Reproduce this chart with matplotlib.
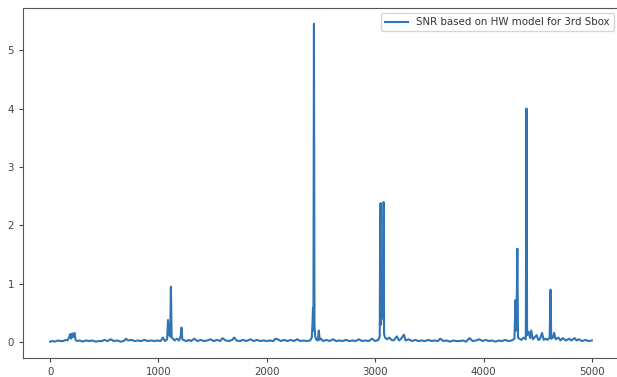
import matplotlib
matplotlib.use("Agg")
import matplotlib.pyplot as plt

# SNR trace (sample index, SNR value)
trace_x = [0, 20, 45, 70, 95, 120, 145, 160, 175, 185, 195, 205, 215, 225, 235, 250,
           275, 300, 330, 360, 390, 420, 450, 480, 500,
           530, 560, 590, 620, 650, 680, 700, 720, 750, 780, 810, 840, 870, 900, 930,
           960, 990,
           1020, 1040, 1060, 1080, 1088, 1094, 1100, 1108, 1115, 1122, 1135, 1150,
           1170, 1190, 1205, 1212, 1220, 1240, 1260, 1280, 1300,
           1330, 1360, 1390, 1420, 1450, 1480, 1510, 1540, 1570, 1590, 1620, 1650,
           1680, 1700, 1720, 1750, 1780, 1810, 1850, 1880, 1910, 1940, 1970, 2000,
           2030, 2060, 2080, 2100, 2130, 2160, 2190, 2220, 2250, 2280, 2310, 2340,
           2370, 2400, 2415,
           2422, 2426, 2430, 2435, 2440, 2446, 2455, 2470, 2480, 2488, 2500, 2520,
           2550, 2580, 2610, 2640, 2670, 2700, 2730, 2760, 2790, 2820, 2850, 2880,
           2910, 2940, 2970, 3000, 3030,
           3042, 3046, 3050, 3054, 3058, 3062, 3066, 3070, 3074, 3078, 3082, 3090,
           3110, 3130, 3150, 3170, 3200, 3220, 3240, 3265, 3280, 3310, 3340, 3370,
           3400, 3430, 3460, 3490, 3520, 3550, 3580, 3600, 3630, 3660, 3690, 3720,
           3750, 3780, 3810, 3840, 3870, 3900, 3930, 3960, 3990, 4020, 4050, 4080,
           4110, 4140, 4170, 4200, 4230, 4260, 4285,
           4295, 4300, 4305, 4312, 4318, 4330, 4350, 4370, 4390, 4396, 4402, 4415,
           4430, 4440, 4455, 4470, 4490, 4505, 4520, 4540, 4555, 4575, 4590, 4610,
           4618, 4625, 4640, 4652, 4665, 4690, 4710, 4730, 4760, 4790, 4810, 4840,
           4860, 4880, 4910, 4940, 4970, 4999]
trace_y = [.01, .02, .01, .03, .02, .02, .04, .03, .08, .14, .06, .15, .09, .16, .04, .02,
           .03, .01, .03, .02, .03, .01, .02, .02, .04,
           .02, .05, .02, .03, .01, .02, .06, .03, .04, .02, .03, .02, .04, .02, .03,
           .02, .03,
           .02, .08, .02, .05, .38, .12, .30, .10, .95, .08, .06, .03,
           .06, .03, .10, .25, .05, .03, .02, .04, .02,
           .06, .02, .04, .02, .03, .05, .02, .04, .02, .07, .03, .02,
           .04, .08, .03, .02, .04, .02, .05, .02, .04, .02, .03, .02,
           .03, .02, .06, .05, .02, .04, .02, .04, .02, .05, .02, .03,
           .02, .03, .08,
           .35, .58, .20, 5.45, .30, .10, .05, .03, .20, .04, .06, .02,
           .04, .02, .05, .02, .03, .02, .04, .02, .03, .02, .05, .02,
           .03, .02, .06, .02, .04,
           .10, 2.0, 2.38, .30, 1.40, .40, 1.38, .50, 1.30, 2.40, .15, .08,
           .05, .08, .04, .03, .10, .03, .06, .13, .03, .05, .02, .04,
           .02, .03, .02, .04, .02, .03, .02, .06, .02, .03, .01, .03,
           .02, .02, .03, .01, .07, .02, .03, .05, .02, .04, .02, .03,
           .01, .03, .02, .04, .02, .03, .06,
           .72, .20, .50, 1.60, .08, .06, .04, .08, .05, 4.0, .12, .18,
           .07, .20, .05, .08, .12, .04, .05, .16, .04, .06, .04, .08,
           .90, .06, .08, .16, .05, .08, .03, .07, .03, .06, .03, .07,
           .03, .05, .02, .04, .02, .03]

series_label = "SNR based on HW model for 3rd Sbox"
x_ticks = [0, 1000, 2000, 3000, 4000, 5000]
y_ticks = [0, 1, 2, 3, 4, 5]

fig = plt.figure(figsize=(6.17, 3.77), dpi=100)
ax = fig.add_axes([23 / 617, 19 / 377, 596 / 617, 350 / 377])

ax.plot(trace_x, trace_y, color="#2f75b5", lw=1.5, label=series_label)

ax.set_xlim(-250, 5250)
ax.set_ylim(-0.27, 5.72)
ax.set_xticks(x_ticks)
ax.set_yticks(y_ticks)
ax.tick_params(labelsize=7.4, colors="#444444", length=3)
for s in ax.spines.values():
    s.set_color("#555555")
# the right edge of the frame is cut off in the reference
ax.spines["right"].set_visible(False)

ax.legend(loc="upper right", fontsize=7.4, handlelength=2.2,
          borderaxespad=0.5, labelcolor="#333333")

fig.savefig("out.png", dpi=100)
